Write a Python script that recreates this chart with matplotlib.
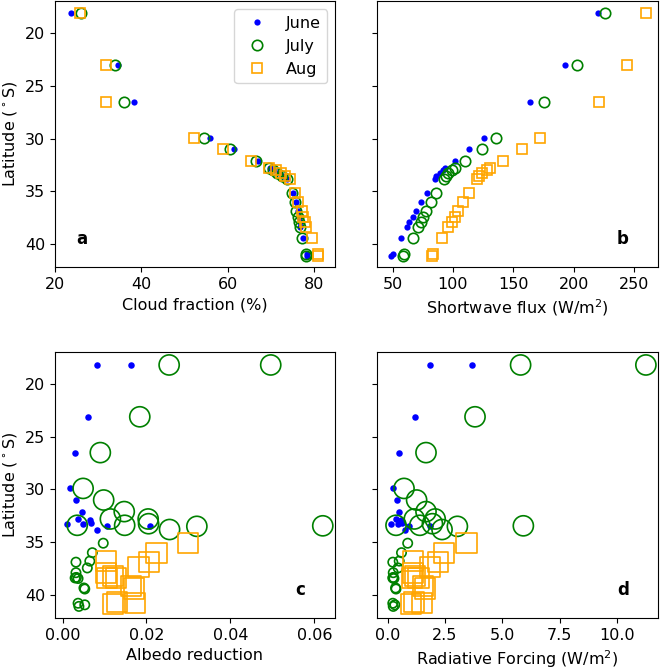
import matplotlib
matplotlib.use("Agg")
import matplotlib.pyplot as plt

plt.rcParams["font.size"] = 11.5

# ── panels a/b : one point per station and month ───────────────────────────
lat_ab = [18.1, 23.0, 26.5, 29.9, 31.0, 32.1, 32.8, 33.0, 33.25, 33.5, 33.8,
          35.1, 36.0, 36.9, 37.4, 37.9, 38.4, 39.4, 40.9, 41.1]

cloud_jun = [23.8, 34.6, 38.4, 55.9, 61.5, 67.0, 69.8, 70.8, 71.8, 72.8, 73.8,
             75.0, 75.8, 76.2, 76.5, 76.6, 76.8, 77.3, 78.3, 78.3]
cloud_jul = [26.1, 33.8, 35.9, 54.5, 60.5, 66.6, 69.5, 70.5, 71.5, 72.6, 73.6,
             74.8, 75.5, 75.9, 76.2, 76.4, 76.6, 77.1, 78.2, 78.2]
cloud_aug = [25.7, 31.7, 31.9, 52.2, 58.9, 65.3, 69.6, 71.2, 72.3, 73.3, 74.3,
             75.5, 76.3, 77.1, 77.5, 77.9, 78.2, 79.5, 80.9, 80.9]

sw_jun = [220.4, 192.8, 164.0, 125.9, 113.5, 101.4, 93.6, 91.6, 88.9, 86.1, 84.7,
          78.2, 73.7, 69.0, 66.6, 63.8, 61.6, 56.9, 50.0, 48.6]
sw_jul = [225.7, 202.8, 175.4, 135.6, 124.0, 110.2, 101.6, 98.9, 96.1, 94.2, 92.5,
          85.9, 81.7, 77.6, 75.4, 73.2, 71.2, 66.6, 59.4, 58.3]
sw_aug = [260.0, 244.0, 220.7, 172.1, 156.9, 141.2, 130.6, 127.9, 124.0, 121.8, 119.6,
          113.2, 108.5, 103.9, 101.6, 98.9, 96.1, 91.1, 83.7, 82.6]

# ── panels c/d : albedo reduction and radiative forcing ───────────────────
lat_cd_jun = [18.18, 18.18, 23.1, 26.5, 29.9, 31.0, 32.1, 32.8, 32.9, 33.15,
              33.3, 33.3, 33.46, 33.43, 33.84]
alb_jun = [0.0082, 0.0164, 0.0060, 0.0029, 0.0017, 0.0031, 0.0047, 0.0036, 0.0065,
           0.0067, 0.0048, 0.0011, 0.0105, 0.0208, 0.0083]
rf_jun = [1.86, 3.69, 1.19, 0.51, 0.22, 0.39, 0.51, 0.36, 0.60,
          0.62, 0.45, 0.13, 0.92, 1.86, 0.75]

lat_cd_jul = [18.18, 18.18, 23.1, 26.5, 29.9, 31.0, 32.1, 32.8, 32.8, 33.4,
              33.4, 33.25, 33.8, 33.5, 33.45,
              35.1, 36.0, 36.8, 36.9, 37.45, 37.9, 38.35, 38.45, 38.4,
              39.35, 39.45, 40.8, 41.1, 40.95]
alb_jul = [0.0254, 0.0496, 0.0184, 0.0090, 0.0049, 0.0098, 0.0147, 0.0114, 0.0204, 0.0035,
           0.0148, 0.0205, 0.0255, 0.0320, 0.0620,
           0.0097, 0.0071, 0.0065, 0.0032, 0.0059, 0.0032, 0.0033, 0.0037, 0.0030,
           0.0051, 0.0053, 0.0037, 0.0039, 0.0053]
rf_jul = [5.80, 11.27, 3.81, 1.67, 0.71, 1.26, 1.67, 1.16, 2.07, 0.36,
          1.40, 1.95, 2.37, 3.04, 5.92,
          0.87, 0.60, 0.50, 0.22, 0.45, 0.24, 0.24, 0.27, 0.22,
          0.34, 0.36, 0.22, 0.24, 0.31]
size_jul = [210, 210, 210, 210, 210, 210, 210, 210, 210, 210,
            210, 210, 210, 210, 210,
            45, 45, 45, 45, 45, 45, 45, 45, 45,
            45, 45, 45, 45, 45]

lat_cd_aug = [35.1, 36.0, 36.9, 37.4, 36.8, 37.9, 38.4, 38.4, 38.2,
              39.2, 39.4, 40.9, 40.8, 40.7]
alb_aug = [0.0299, 0.0224, 0.0206, 0.0181, 0.0103, 0.0103, 0.0105, 0.0127, 0.0120,
           0.0164, 0.0170, 0.0120, 0.0172, 0.0129]
rf_aug = [3.44, 2.46, 2.21, 1.84, 1.09, 1.09, 1.05, 1.34, 1.20,
          1.55, 1.62, 1.00, 1.48, 1.13]
size_aug = [210] * len(lat_cd_aug)

months = ["June", "July", "Aug"]
BLUE, GREEN, ORANGE = "blue", "green", "orange"

fig = plt.figure(figsize=(6.6, 6.71), dpi=100)
ax_a = fig.add_axes([0.0833, 0.6016, 0.4242, 0.3964])
ax_b = fig.add_axes([0.5712, 0.6016, 0.4258, 0.3964])
ax_c = fig.add_axes([0.0833, 0.0790, 0.4242, 0.3964])
ax_d = fig.add_axes([0.5712, 0.0790, 0.4258, 0.3964])


def _ab_panel(ax, xj, xl, xa):
    ax.plot(xj, lat_ab, "o", color=BLUE, ms=4.5, mew=0, label=months[0])
    ax.plot(xl, lat_ab, "o", mfc="none", mec=GREEN, ms=7.5, mew=1.2, label=months[1])
    ax.plot(xa, lat_ab, "s", mfc="none", mec=ORANGE, ms=7.5, mew=1.2, label=months[2])


def _cd_panel(ax, xj, xl, xa):
    ax.scatter(xj, lat_cd_jun, s=22, color=BLUE, linewidths=0)
    ax.scatter(xl, lat_cd_jul, s=size_jul, facecolors="none",
               edgecolors=GREEN, linewidths=1.2)
    ax.scatter(xa, lat_cd_aug, s=size_aug, marker="s", facecolors="none",
               edgecolors=ORANGE, linewidths=1.2)


_ab_panel(ax_a, cloud_jun, cloud_jul, cloud_aug)
_ab_panel(ax_b, sw_jun, sw_jul, sw_aug)
_cd_panel(ax_c, alb_jun, alb_jul, alb_aug)
_cd_panel(ax_d, rf_jun, rf_jul, rf_aug)

ax_a.set_xlim(20.2, 84.8)
ax_a.set_xticks([20, 40, 60, 80])
ax_b.set_xlim(37, 270)
ax_b.set_xticks([50, 100, 150, 200, 250])
ax_c.set_xlim(-0.0018, 0.0649)
ax_c.set_xticks([0.0, 0.02, 0.04, 0.06])
ax_d.set_xlim(-0.47, 11.8)
ax_d.set_xticks([0.0, 2.5, 5.0, 7.5, 10.0])

ax_a.set_xlabel("Cloud fraction (%)")
ax_b.set_xlabel("Shortwave flux (W/m$^2$)")
ax_c.set_xlabel("Albedo reduction")
ax_d.set_xlabel("Radiative Forcing (W/m$^2$)")

for ax, tag in zip([ax_a, ax_b, ax_c, ax_d], "abcd"):
    ax.set_ylim(42.2, 16.95)
    ax.set_yticks([20, 25, 30, 35, 40])
    x = 0.095 if tag == "a" else 0.875
    ax.text(x, 0.105, tag, transform=ax.transAxes, fontsize=12,
            fontweight="bold", ha="center", va="center")

ax_a.set_ylabel("Latitude ($^\\circ$S)")
ax_c.set_ylabel("Latitude ($^\\circ$S)")
ax_b.tick_params(labelleft=False)
ax_d.tick_params(labelleft=False)

ax_a.legend(loc="upper right", fontsize=11.5)

fig.savefig("out.png", dpi=100)
